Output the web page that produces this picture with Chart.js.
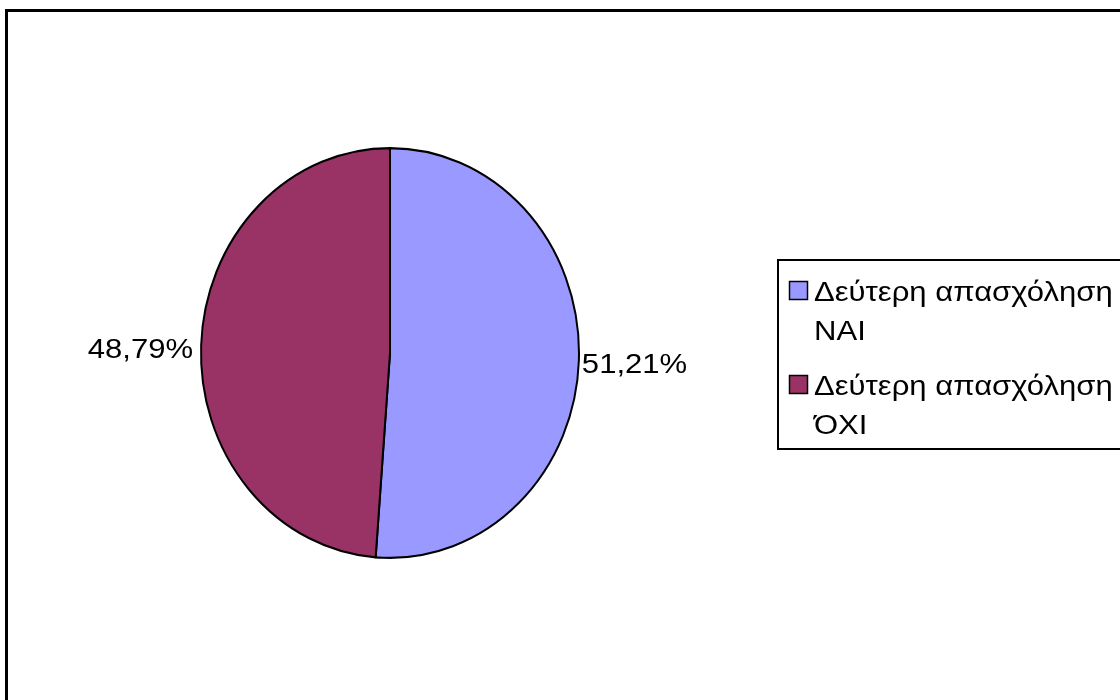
<!DOCTYPE html>
<html>
<head>
<meta charset="utf-8">
<script src="https://cdn.jsdelivr.net/npm/chart.js@4/dist/chart.umd.min.js"></script>
<style>
  body { margin: 0; background: #fff; }
  #wrap { width: 1120px; height: 700px; position: relative; }
</style>
</head>
<body>
<div id="wrap"><canvas id="pie" width="1120" height="700"></canvas></div>
<script>
var labels = ["Δεύτερη απασχόληση ΝΑΙ", "Δεύτερη απασχόληση ΌΧΙ"];
var legendLines = [["Δεύτερη απασχόληση", "ΝΑΙ"], ["Δεύτερη απασχόληση", "ΌΧΙ"]];
var values = [51.21, 48.79];
var colors = ["#9999FF", "#993366"];

var FONT = '27px "Liberation Sans", Arial, sans-serif';
var TEXT_WIDE = 1.15;     // the original text is drawn a bit wider than normal
var yStretch = 206 / 190; // the original pie is slightly taller than wide

// text with the horizontal stretch of the original
function wideText(ctx, txt, x, y, align) {
    ctx.save();
    ctx.translate(x, y);
    ctx.scale(TEXT_WIDE, 1);
    ctx.textAlign = align;
    ctx.fillText(txt, 0, 0);
    ctx.restore();
}

// frame round the whole chart
var framePlugin = {
    id: "frame",
    beforeDraw: function(chart) {
        var ctx = chart.ctx;
        ctx.save();
        ctx.fillStyle = "#fff";
        ctx.fillRect(0, 0, chart.width, chart.height);
        ctx.strokeStyle = "#000";
        ctx.lineWidth = 3;
        ctx.strokeRect(6.5, 10.5, 1200, 800);
        ctx.restore();
    }
};

// stretch the pie vertically
var stretchPlugin = {
    id: "stretch",
    beforeDatasetsDraw: function(chart) {
        var arc = chart.getDatasetMeta(0).data[0];
        var ctx = chart.ctx;
        ctx.save();
        ctx.translate(arc.x, arc.y);
        ctx.scale(1, yStretch);
        ctx.translate(-arc.x, -arc.y);
    },
    afterDatasetsDraw: function(chart) {
        chart.ctx.restore();
    }
};

// percentage labels outside the slices
var pctPlugin = {
    id: "pct",
    afterDatasetsDraw: function(chart) {
        var ctx = chart.ctx;
        var meta = chart.getDatasetMeta(0);
        ctx.save();
        ctx.font = FONT;
        ctx.fillStyle = "#000";
        ctx.textBaseline = "middle";
        meta.data.forEach(function(arc, i) {
            var mid = (arc.startAngle + arc.endAngle) / 2;
            var c = Math.cos(mid), s = Math.sin(mid);
            var gap = c >= 0 ? 3 : 8;
            var x = arc.x + c * (arc.outerRadius + gap);
            var y = arc.y + s * (arc.outerRadius * yStretch) + 5;
            var txt = values[i].toFixed(2).replace(".", ",") + "%";
            wideText(ctx, txt, x, y, c >= 0 ? "left" : "right");
        });
        ctx.restore();
    }
};

// legend box on the right
var legendPlugin = {
    id: "sideLegend",
    afterDraw: function(chart) {
        var ctx = chart.ctx;
        ctx.save();
        ctx.strokeStyle = "#000";
        ctx.lineWidth = 2;
        ctx.strokeRect(778, 260, 400, 189);
        ctx.font = FONT;
        ctx.textBaseline = "alphabetic";
        var tops = [281, 375];
        legendLines.forEach(function(lines, i) {
            ctx.fillStyle = colors[i];
            ctx.fillRect(789.5, tops[i] + 0.5, 18, 18);
            ctx.lineWidth = 1.5;
            ctx.strokeRect(789.5, tops[i] + 0.5, 18, 18);
            ctx.fillStyle = "#000";
            wideText(ctx, lines[0], 814, tops[i] + 20, "left");
            wideText(ctx, lines[1], 814, tops[i] + 59, "left");
        });
        ctx.restore();
    }
};

new Chart(document.getElementById("pie").getContext("2d"), {
    type: "pie",
    data: {
        labels: labels,
        datasets: [{
            data: values,
            backgroundColor: colors,
            borderColor: "#000",
            borderWidth: 2
        }]
    },
    options: {
        responsive: false,
        animation: false,
        layout: {
            padding: { left: 200, right: 540, top: 163, bottom: 157 }
        },
        plugins: {
            legend: { display: false },
            tooltip: { enabled: false }
        }
    },
    plugins: [framePlugin, stretchPlugin, pctPlugin, legendPlugin]
});
</script>
</body>
</html>
